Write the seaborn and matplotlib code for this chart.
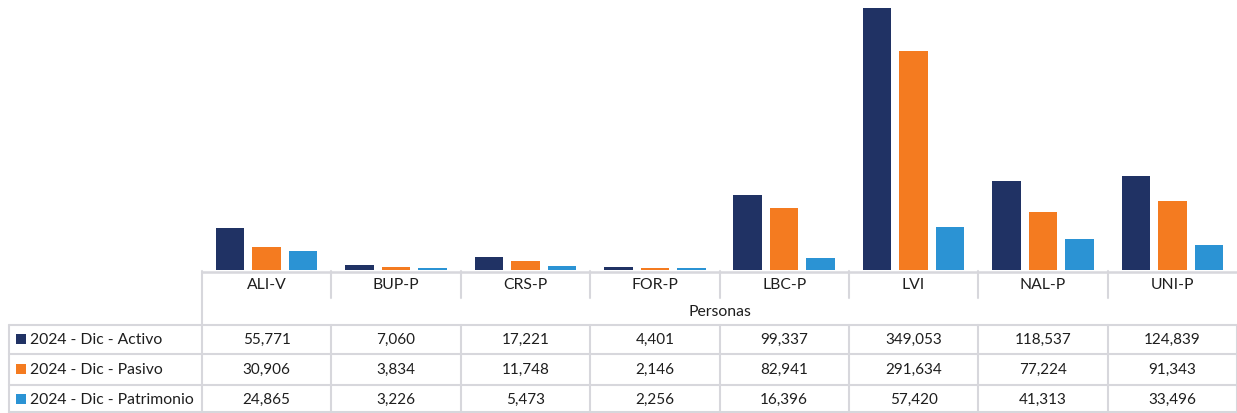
import matplotlib
matplotlib.use("Agg")
import matplotlib.pyplot as plt
import matplotlib.transforms as mtransforms
import seaborn as sns
import pandas as pd

categories = ["ALI-V", "BUP-P", "CRS-P", "FOR-P", "LBC-P", "LVI", "NAL-P", "UNI-P"]
series_names = ["2024 - Dic - Activo", "2024 - Dic - Pasivo", "2024 - Dic - Patrimonio"]
activo = [55771, 7060, 17221, 4401, 99337, 349053, 118537, 124839]
pasivo = [30906, 3834, 11748, 2146, 82941, 291634, 77224, 91343]
patrimonio = [24865, 3226, 5473, 2256, 16396, 57420, 41313, 33496]
group_label = "Personas"
colors = ["#203264", "#F47B20", "#2B93D4"]

series_values = [activo, pasivo, patrimonio]
rows = []
for name, vals in zip(series_names, series_values):
    for c, v in zip(categories, vals):
        rows.append({"cat": c, "serie": name, "valor": v})
df = pd.DataFrame(rows)

sns.set_theme(style="white")
plt.rcParams["font.family"] = ["Lato", "DejaVu Sans"]

W, H = 1237, 414
fig = plt.figure(figsize=(W / 100, H / 100), dpi=100)

# overlay axes in pixel coordinates for table lines/text
tab = fig.add_axes([0, 0, 1, 1])
tab.set_xlim(0, W)
tab.set_ylim(H, 0)
tab.axis("off")

left_px, base_px = 202, 271
ax = fig.add_axes([left_px / W, (H - base_px) / H, (W - left_px) / W, base_px / H])
sns.barplot(data=df, x="cat", y="valor", hue="serie", palette=colors,
            width=0.846, gap=0.22, linewidth=0, saturation=1, ax=ax, legend=False)
ax.set_xlim(-0.5, len(categories) - 0.5)
ax.set_ylim(0, 361000)
ax.axis("off")

grid_c = "#d7d7dc"
txt_c = "#1e1e1e"
fs_lab = 11.3
fs_num = 11
blend = mtransforms.blended_transform_factory(ax.transData, tab.transData)
n = len(categories)

# top line
tab.plot([-0.5, n - 0.5], [272.5, 272.5], color=grid_c, lw=1.8, transform=blend,
         solid_capstyle="butt", clip_on=False)
# left border of column area
tab.plot([-0.5, -0.5], [271.5, H], color=grid_c, lw=1.5, transform=blend, clip_on=False)
# header separators
for i in range(1, n):
    tab.plot([i - 0.5, i - 0.5], [272, 299], color=grid_c, lw=1.5, transform=blend, clip_on=False)
# data row separators
for i in range(1, n + 1):
    tab.plot([i - 0.5, i - 0.5], [325.5, H], color=grid_c, lw=1.5, transform=blend, clip_on=False)
tab.plot([9.3, 9.3], [325.5, H], color=grid_c, lw=1.5, clip_on=False)
# horizontal row lines
for y in [325.7, 355, 385.7, 413.5]:
    tab.plot([9.3, W], [y, y], color=grid_c, lw=1.5, clip_on=False)

# category labels
for i, c in enumerate(categories):
    tab.text(i, 285, c, transform=blend, ha="center", va="center", fontsize=fs_lab, color=txt_c)
# group label centred over the category columns
tab.text((n - 1) / 2, 312, group_label, transform=blend, ha="center", va="center",
         fontsize=fs_lab, color=txt_c)

# data rows
row_y = [340, 370, 400]
for name, vals, col, y in zip(series_names, series_values, colors, row_y):
    tab.add_patch(plt.Rectangle((16, y - 5), 10, 10, color=col, lw=0))
    tab.text(30, y, name, ha="left", va="center", fontsize=fs_lab, color=txt_c)
    for i, v in enumerate(vals):
        tab.text(i, y, f"{v:,}", transform=blend, ha="center", va="center",
                 fontsize=fs_num, color=txt_c)

fig.savefig("out.png", dpi=100)
